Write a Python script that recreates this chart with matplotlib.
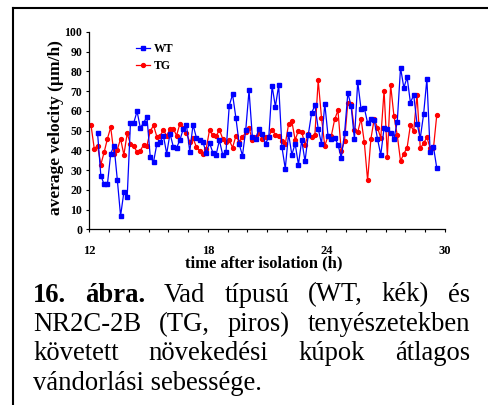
"""Average growth cone migration velocity, WT vs TG cultures (figure 16)."""
import numpy as np
import matplotlib

matplotlib.use("Agg")
import matplotlib.pyplot as plt
from matplotlib.lines import Line2D
from matplotlib.ticker import MultipleLocator

plt.rcParams["font.family"] = ["Liberation Serif", "DejaVu Serif"]

# sampling: one point every 10 minutes
step_h = 10 / 60
wt_start_h = 12 + 25 / 60
tg_start_h = 12 + 5 / 60

wt_velocity = [
    49, 27.2, 22.8, 22.8, 38.3, 42.4, 25.2, 6.8, 18.9, 16.2,
    54, 54, 59.8, 51.4, 54, 57, 36.8, 34.1, 43.2, 44.4,
    47.5, 38.3, 48.5, 41.9, 41.4, 45.1, 50.8, 53, 39.4, 53,
    46.5, 45.4, 44.3, 38.7, 43.8, 38.9, 37.8, 45.1, 37.8, 39.2,
    62.7, 68.4, 56.6, 43.4, 37.3, 50.3, 70.4, 47, 45.8, 50.8,
    48.5, 43.4, 46.8, 72.6, 62.2, 73, 41.6, 30.7, 48.5, 37.8,
    43.4, 32.8, 45.1, 34.5, 48, 59, 62.8, 51, 43.4, 63.7,
    47.1, 45.8, 46.5, 42.9, 36.3, 48.6, 69.1, 62.5, 45.6, 74.8,
    61.1, 61.5, 53.9, 55.9, 55.4, 45.9, 37.7, 51.4, 51, 49,
    45.9, 54.4, 81.9, 71.8, 77, 64.2, 68.1, 53.5, 46.3, 58.3,
    76.2, 39, 41.7, 31.1,
]
tg_velocity = [
    53, 40.9, 42.4, 32.8, 39, 45.9, 51.7, 38.3, 40.4, 45.9,
    37.7, 48.6, 43.2, 42.4, 39, 39.9, 42.9, 42.4, 49.7, 52.7,
    47, 47.5, 50.2, 47.5, 50.8, 51, 47.5, 53.5, 51.5, 48.6,
    44.4, 46.3, 41.7, 39.9, 38.2, 40.9, 50.3, 47.6, 47.1, 50.5,
    45.9, 44.4, 45.1, 41.4, 47.3, 44.4, 46.6, 49.2, 51.2, 45.4,
    47, 48.8, 45.9, 47, 47, 50.5, 48, 47.3, 44.8, 43.2,
    53.2, 54.7, 45.3, 50, 49.3, 42.9, 48.3, 46.6, 48, 75.5,
    56.6, 42.2, 47.5, 47.5, 55.7, 60.3, 39.5, 44.8, 64.2, 63.5,
    50.2, 49.2, 56.1, 44.1, 24.8, 45.8, 55.9, 51.5, 46.3, 70.3,
    36.8, 73.1, 57.4, 47.8, 34.6, 38.3, 41.4, 52.9, 49.8, 68.2,
    41, 43.6, 46.6, 41.2, 41.2, 57.9,
]
x_ticks = [12, 18, 24, 30]
y_ticks = list(range(0, 101, 10))

caption_lines = [
    [("16.", "bold"), ("ábra.", "bold"), ("Vad", "normal"), ("típusú", "normal"),
     ("(WT,", "normal"), ("kék)", "normal"), ("és", "normal")],
    [("NR2C-2B", "normal"), ("(TG,", "normal"), ("piros)", "normal"),
     ("tenyészetekben", "normal")],
    [("követett", "normal"), ("növekedési", "normal"), ("kúpok", "normal"),
     ("átlagos", "normal")],
    [("vándorlási sebessége.", "normal")],
]

wt_time = wt_start_h + step_h * np.arange(len(wt_velocity))
tg_time = tg_start_h + step_h * np.arange(len(tg_velocity))

W, H = 489, 405
fig = plt.figure(figsize=(W / 100, H / 100), dpi=100)
ax = fig.add_axes([89.3 / W, 1 - 229.3 / H, 355.7 / W, 197.3 / H])

ax.plot(wt_time, wt_velocity, color="#0000FF", lw=0.9, marker="s", ms=3.4,
        label="WT", zorder=3)
ax.plot(tg_time, tg_velocity, color="#FF0000", lw=0.9, marker="o", ms=2.8,
        label="TG", zorder=2)

ax.set_xlim(12, 30)
ax.set_ylim(0, 100)
ax.set_xticks(x_ticks)
ax.xaxis.set_minor_locator(MultipleLocator(1))
ax.set_yticks(y_ticks)
for side in ("top", "right"):
    ax.spines[side].set_visible(False)
for side in ("left", "bottom"):
    ax.spines[side].set_linewidth(0.9)
ax.tick_params(axis="both", which="both", direction="out", length=2.5, width=0.8)
ax.tick_params(axis="x", which="major", pad=8.5, labelsize=9)
ax.tick_params(axis="y", pad=2.5, labelsize=8.5)
for lab in ax.get_xticklabels() + ax.get_yticklabels():
    lab.set_fontweight("bold")

fig.text(56 / W, 1 - 127.7 / H, "average velocity (µm/h)", rotation=90,
         ha="center", va="center", fontsize=12.5, fontweight="bold")
fig.text(264 / W, 1 - 263.5 / H, "time after isolation (h)",
         ha="center", va="center", fontsize=12, fontweight="bold")

ax.legend(loc="upper left", bbox_to_anchor=(130 / W, 1 - 37 / H),
          bbox_transform=fig.transFigure, frameon=False, borderpad=0,
          handlelength=1.2, handletextpad=0.35, labelspacing=0.45,
          prop={"size": 8.5, "weight": "bold"})

# frame around figure + caption (top and left edges visible)
fig.add_artist(Line2D([13 / W, 1], [1 - 8 / H, 1 - 8 / H], color="black", lw=1.5))
fig.add_artist(Line2D([13 / W, 13 / W], [0, 1 - 8 / H], color="black", lw=1.5))

# justified caption
left_px, right_px = 33, 470
baselines = [301.5, 331, 360.5, 390]
renderer = fig.canvas.get_renderer()
for i, (words, base) in enumerate(zip(caption_lines, baselines)):
    y = 1 - base / H
    texts = [fig.text(left_px / W, y, w, fontsize=19.2, fontweight=wt,
                      ha="left", va="baseline") for w, wt in words]
    if i == len(caption_lines) - 1:
        continue
    widths = [t.get_window_extent(renderer).width for t in texts]
    gap = (right_px - left_px - sum(widths)) / (len(texts) - 1)
    x = left_px
    for t, w in zip(texts, widths):
        t.set_x(x / W)
        x += w + gap

fig.savefig("out.png", dpi=100)
